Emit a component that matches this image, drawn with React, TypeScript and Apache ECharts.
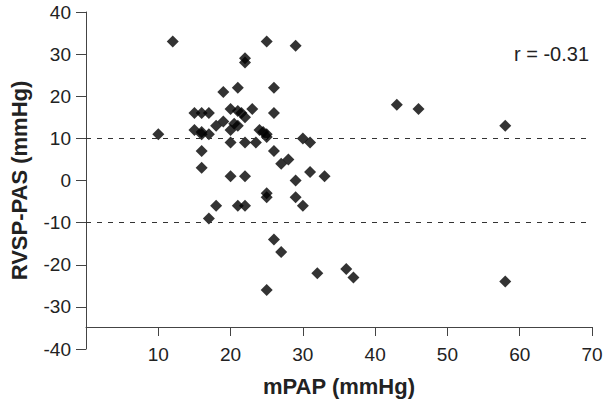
import React, { useEffect, useRef } from "react";
import * as echarts from "echarts";

// mPAP (mmHg) and RVSP-PAS (mmHg) for each patient
const mpap = [
  10, 12,
  15, 16, 17,
  15, 16, 16, 17,
  16, 16,
  17, 18,
  18, 19, 19,
  20, 21, 21.5, 22,
  20.5, 21, 20,
  20, 22, 20, 22, 21, 22,
  21, 22, 22, 23,
  24, 24.5, 25, 25, 23.5,
  25, 26, 26, 26, 27, 28,
  25, 25, 25, 26, 27,
  29, 29, 29, 30, 30, 31, 31, 33,
  32, 36, 37,
  43, 46, 58, 58,
];
const diff = [
  11, 33,
  16, 16, 16,
  12, 11.5, 11, 11,
  7, 3,
  -9, -6,
  13, 14, 21,
  17, 16.5, 16, 15,
  13.5, 13, 12,
  9, 9, 1, 1, -6, -6,
  22, 29, 28, 17,
  12, 11.5, 11, 10.3, 9,
  33, 22, 16, 7, 4, 5,
  -3, -4, -26, -14, -17,
  32, 0, -4, -6, 10, 9, 2, 1,
  -22, -21, -23,
  18, 17, 13, -24,
];
const limitLines = [10, -10];
const corrText = "r = -0.31";
const xTitle = "mPAP (mmHg)";
const yTitle = "RVSP-PAS (mmHg)";

const FONT = "'Liberation Sans', Arial, Helvetica, sans-serif";

export default function App() {
  const ref = useRef<HTMLDivElement>(null);
  useEffect(() => {
    if (!ref.current) return;
    const chart = echarts.init(ref.current, undefined, { renderer: "svg" });
    const data = mpap.map((x, i) => [x, diff[i]]);
    chart.setOption({
      animation: false,
      backgroundColor: "#ffffff",
      grid: { left: 83, right: 17, top: 12, bottom: 53, containLabel: false },
      xAxis: {
        type: "value",
        min: 0,
        max: 70,
        interval: 10,
        offset: -22,
        axisLine: { show: true, onZero: false, lineStyle: { color: "#444", width: 1 } },
        axisTick: { show: true, length: 9, lineStyle: { color: "#444", width: 1 } },
        axisLabel: { margin: 18, fontSize: 19, color: "#222", fontFamily: FONT, showMinLabel: false },
        splitLine: { show: false },
        name: xTitle,
        nameLocation: "middle",
        nameGap: 48,
        nameTextStyle: { fontSize: 22, fontWeight: "bold", color: "#222", fontFamily: FONT },
      },
      yAxis: {
        type: "value",
        min: -40,
        max: 40,
        interval: 10,
        axisLine: { show: true, onZero: false, lineStyle: { color: "#444", width: 1 } },
        axisTick: { show: true, length: 10, lineStyle: { color: "#444", width: 1 } },
        axisLabel: { margin: 15, fontSize: 19, color: "#222", fontFamily: FONT },
        splitLine: { show: false },
        name: yTitle,
        nameLocation: "middle",
        nameGap: 56,
        nameTextStyle: { fontSize: 22, fontWeight: "bold", color: "#222", fontFamily: FONT },
      },
      series: [
        {
          type: "scatter",
          symbol: "diamond",
          symbolSize: 12,
          itemStyle: { color: "#000" },
          data,
          markLine: {
            silent: true,
            symbol: "none",
            label: { show: false },
            lineStyle: { type: [5, 6], color: "#333", width: 1 },
            data: limitLines.map((v) => ({ yAxis: v })),
          },
        },
      ],
      graphic: [
        {
          type: "text",
          left: 514,
          top: 44,
          style: { text: corrText, fontSize: 20, fill: "#222", fontFamily: FONT },
        },
      ],
    });
    return () => chart.dispose();
  }, []);
  return (
    <div
      ref={ref}
      style={{ position: "fixed", left: 0, top: 0, width: 609, height: 402, background: "#fff" }}
    />
  );
}
